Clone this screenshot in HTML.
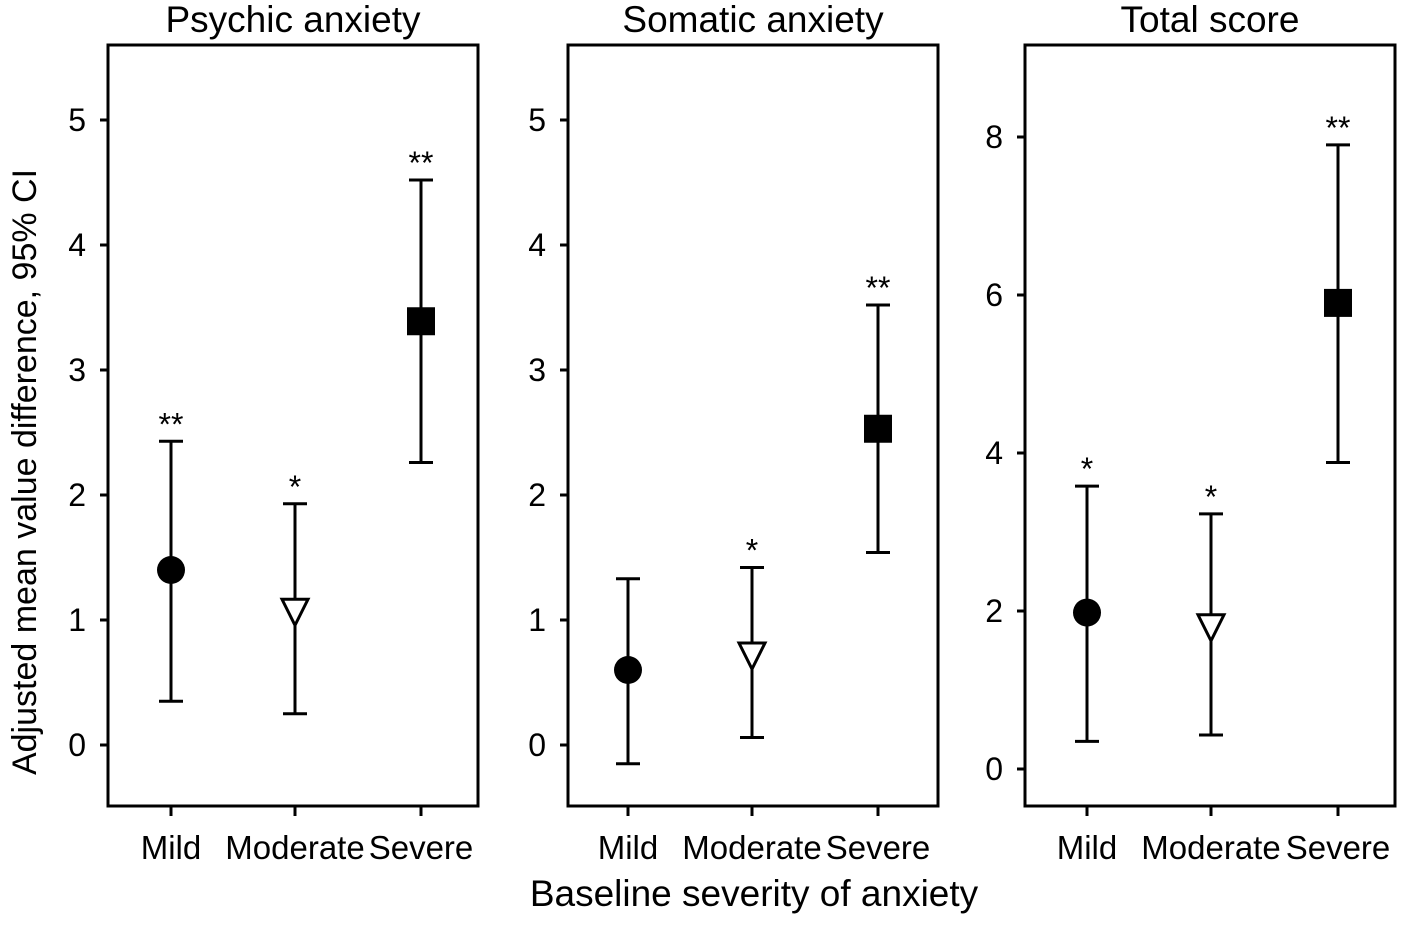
<!DOCTYPE html>
<html><head><meta charset="utf-8"><style>
body{margin:0;background:#fff}
svg text{font-family:"Liberation Sans",Arial,sans-serif;fill:#000}
</style></head><body>
<svg id="c" width="1404" height="920"></svg>
<script>
const categories=["Mild","Moderate","Severe"];
const titles=["Psychic anxiety","Somatic anxiety","Total score"];
const means=[[1.4,1.07,3.39],[0.6,0.72,2.53],[1.98,1.8,5.9]];
const lows=[[0.35,0.25,2.26],[-0.15,0.06,1.54],[0.35,0.43,3.88]];
const highs=[[2.43,1.93,4.52],[1.33,1.42,3.52],[3.58,3.23,7.9]];
const stars=[["**","*","**"],["","*","**"],["*","*","**"]];
const yTicks=[[0,1,2,3,4,5],[0,1,2,3,4,5],[0,2,4,6,8]];
const panels=[{x0:108,x1:478,v0:745,pu:125,xs:[171,295,421]},{x0:568,x1:938,v0:745,pu:125,xs:[628,752,878]},{x0:1025,x1:1395,v0:769,pu:79,xs:[1087,1211,1338]}];
const NS="http://www.w3.org/2000/svg",svg=document.getElementById("c");
function mk(t,a,txt){const e=document.createElementNS(NS,t);for(const k in a)e.setAttribute(k,a[k]);if(txt!==undefined)e.textContent=txt;svg.appendChild(e);return e;}
const plotTop=45,plotBot=806;
panels.forEach((p,i)=>{
 const y=v=>p.v0-v*p.pu;
 let e=mk("rect",{x:p.x0,y:plotTop,width:p.x1-p.x0,height:plotBot-plotTop,fill:"none",stroke:"#000","stroke-width":3});
 
 
 e=mk("text",{x:(p.x0+p.x1)/2,y:32,"font-size":37,"text-anchor":"middle"},titles[i]);
 
 
 yTicks[i].forEach(t=>{
  mk("line",{x1:p.x0-8,x2:p.x0,y1:y(t),y2:y(t),stroke:"#000","stroke-width":3});
  e=mk("text",{x:p.x0-22,y:y(t)+11,"font-size":32,"text-anchor":"end"},t);
  
  
 });
 categories.forEach((c,j)=>{
  const x=p.xs[j];
  mk("line",{x1:x,x2:x,y1:plotBot,y2:plotBot+10,stroke:"#000","stroke-width":3});
  e=mk("text",{x:x,y:859,"font-size":33,"text-anchor":"middle"},c);
  
  
  const yl=y(lows[i][j]),yh=y(highs[i][j]),ym=y(means[i][j]);
  e=mk("path",{d:`M${x},${yl}V${yh}M${x-12},${yl}H${x+12}M${x-12},${yh}H${x+12}`,stroke:"#000","stroke-width":3,fill:"none"});
  
  
  if(j===0)e=mk("circle",{cx:x,cy:ym,r:14,fill:"#000"});
  else if(j===1)e=mk("path",{d:`M${x-13},${ym-12}H${x+13}L${x},${ym+14}Z`,fill:"#fff",stroke:"#000","stroke-width":3});
  else e=mk("rect",{x:x-14,y:ym-14,width:28,height:28,fill:"#000"});
  
  
  if(stars[i][j]){e=mk("text",{x:x,y:yh-6,"font-size":32,"text-anchor":"middle"},stars[i][j]);
  
  }
 });
});
let tt=mk("text",{x:0,y:0,"font-size":34,"text-anchor":"middle",transform:"translate(36,472) rotate(-90)"},"Adjusted mean value difference, 95% CI");


tt=mk("text",{x:754,y:906,"font-size":37,"text-anchor":"middle"},"Baseline severity of anxiety");


</script>
</body></html>
